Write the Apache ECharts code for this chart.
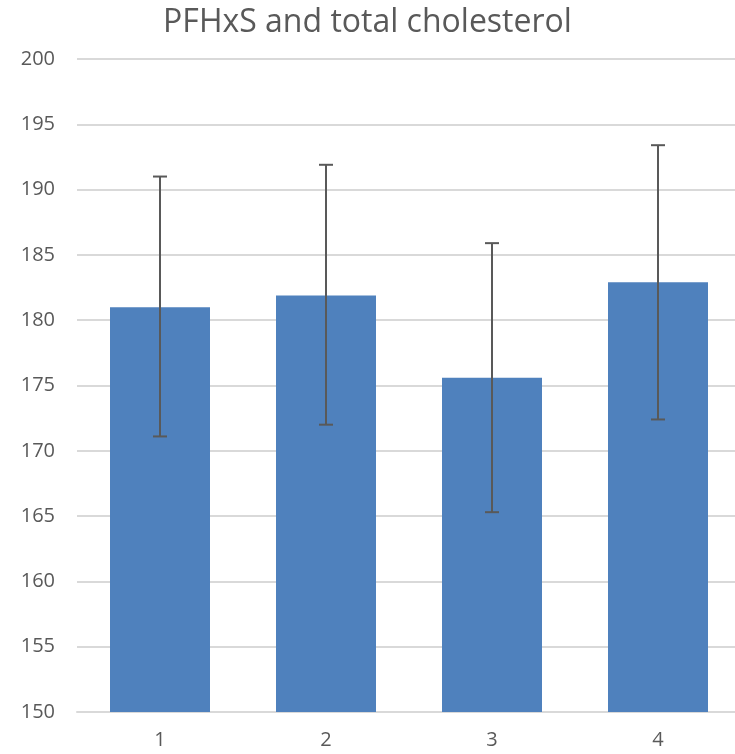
<!DOCTYPE html>
<html>
<head>
<meta charset="utf-8">
<script src="https://cdn.jsdelivr.net/npm/echarts@6/dist/echarts.min.js"></script>
<style>
  html, body { margin: 0; padding: 0; background: #fff; }
  #chart { width: 735px; height: 754px; }
</style>
</head>
<body>
<div id="chart"></div>
<script>
const categories = ['1', '2', '3', '4']
const means = [181.0, 181.9, 175.6, 182.9]
const errLow = [171.1, 172.0, 165.3, 172.4]
const errHigh = [191.0, 191.9, 185.9, 193.4]

const chart = echarts.init(document.getElementById('chart'))

const errorData = categories.map((c, i) => [i, errLow[i], errHigh[i]])

chart.setOption({
  animation: false,
  title: {
    text: 'PFHxS and total cholesterol',
    left: 'center',
    top: 2,
    textStyle: { color: '#595959', fontSize: 32, fontWeight: 'normal', fontFamily: 'Open Sans' }
  },
  grid: { left: 77, right: -6, top: 59, bottom: 42, outerBoundsMode: 'none', containLabel: false },
  xAxis: {
    type: 'category',
    data: categories,
    axisTick: { show: false },
    axisLine: { lineStyle: { color: '#d9d9d9', width: 2 } },
    axisLabel: { color: '#595959', fontSize: 20, margin: 18, fontFamily: 'Open Sans' }
  },
  yAxis: {
    type: 'value',
    min: 150,
    max: 200,
    interval: 5,
    axisLine: { show: false },
    axisTick: { show: false },
    splitLine: { lineStyle: { color: '#d9d9d9', width: 2 } },
    axisLabel: { color: '#595959', fontSize: 20, margin: 22, fontFamily: 'Open Sans' }
  },
  series: [
    {
      type: 'bar',
      data: means,
      barWidth: 100,
      itemStyle: { color: '#4f81bd' }
    },
    {
      type: 'custom',
      data: errorData,
      z: 10,
      renderItem: (params, api) => {
        const x = api.value(0)
        const lo = api.coord([x, api.value(1)])
        const hi = api.coord([x, api.value(2)])
        const half = 7
        const style = { stroke: '#595959', lineWidth: 2 }
        return {
          type: 'group',
          children: [
            { type: 'line', shape: { x1: lo[0], y1: lo[1], x2: hi[0], y2: hi[1] }, style },
            { type: 'line', shape: { x1: lo[0] - half, y1: lo[1], x2: lo[0] + half, y2: lo[1] }, style },
            { type: 'line', shape: { x1: hi[0] - half, y1: hi[1], x2: hi[0] + half, y2: hi[1] }, style }
          ]
        }
      }
    }
  ]
})
</script>
</body>
</html>
